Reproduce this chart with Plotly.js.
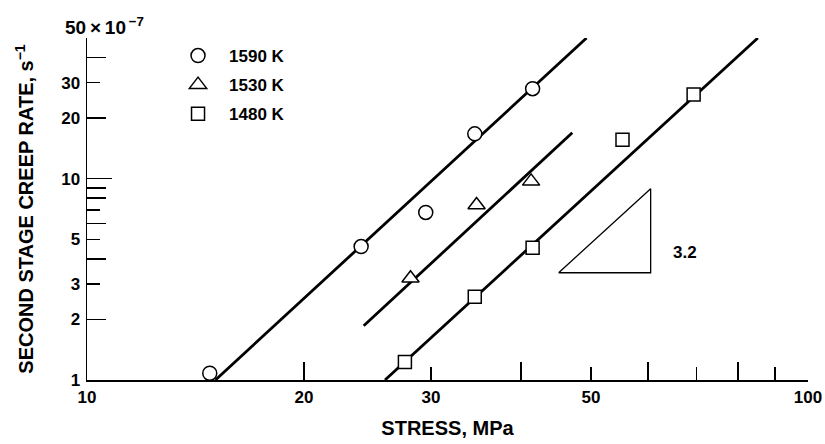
<!DOCTYPE html>
<html><head><meta charset="utf-8">
<script src="https://cdn.plot.ly/plotly-3.0.1.min.js"></script>
<style>html,body{margin:0;padding:0;background:#fff}</style>
</head><body><div id="chart" style="width:825px;height:444px"></div>
<script>
// Data (creep rate in units of 1e-7 s^-1, stress in MPa)
const x1590 = [14.8, 24.0, 29.5, 34.5, 41.5];
const y1590 = [1.08, 4.6, 6.8, 16.7, 28.0];
const x1530 = [28.1, 34.7, 41.3];
const y1530 = [3.2, 7.4, 9.7];
const x1480 = [27.6, 34.5, 41.5, 55.3, 69.4];
const y1480 = [1.23, 2.59, 4.54, 15.6, 26.2];
const fit1590x = [15.07, 49.3], fit1590y = [1, 50];
const fit1530x = [24.2, 47.1], fit1530y = [1.86, 16.9];
const fit1480x = [25.9, 85.2], fit1480y = [1, 50];
const slopeX = [45.1, 60.5, 60.5, 45.1], slopeY = [3.41, 3.41, 8.92, 3.41];
const slopeLabel = "3.2", slopeLabelX = 64.6, slopeLabelY = 4.28;
const xTickVals = [10, 20, 30, 50, 100], xTickText = ["10", "20", "30", "50", "100"];
const yTickVals = [1, 2, 3, 5, 10, 20, 30], yTickText = ["1", "2", "3", "5", "10", "20", "30"];
const xLongTicks = [20, 40, 60, 80, 100], xShortTicks = [30, 50, 70, 90];
const yLongTicks = [2, 4, 6, 8, 9, 20, 40], yShortTicks = [3, 5, 7, 30, 50], yDecadeTicks = [10];

const FONT = "'Liberation Sans', Arial, sans-serif";
const lineStyle = {color: "#000", width: 2.8};
const traces = [
  {x: fit1590x, y: fit1590y, mode: "lines", line: lineStyle, showlegend: false, hoverinfo: "skip"},
  {x: fit1530x, y: fit1530y, mode: "lines", line: lineStyle, showlegend: false, hoverinfo: "skip"},
  {x: fit1480x, y: fit1480y, mode: "lines", line: lineStyle, showlegend: false, hoverinfo: "skip"},
  {x: slopeX, y: slopeY, mode: "lines", line: {color: "#000", width: 1.3}, showlegend: false, hoverinfo: "skip"},
  {x: x1590, y: y1590, mode: "markers", name: "1590 K", legendgroup: "a",
   marker: {symbol: "circle", size: 14, color: "#fff", line: {color: "#000", width: 1.5}}},
  {x: x1530, y: y1530, mode: "markers", name: "1530 K", legendgroup: "b",
   marker: {symbol: "triangle-up", size: 15, color: "#fff", line: {color: "#000", width: 1.5}}},
  {x: x1480, y: y1480, mode: "markers", name: "1480 K", legendgroup: "c",
   marker: {symbol: "square", size: 13, color: "#fff", line: {color: "#000", width: 1.5}}},
  {x: [], y: [], xaxis: "x2", yaxis: "y", showlegend: false},
  {x: [], y: [], xaxis: "x", yaxis: "y2", showlegend: false},
  {x: [], y: [], xaxis: "x", yaxis: "y3", showlegend: false}
];
const xr = [1, 2], yr = [0, Math.log10(50)];
const over = {type: "log", showgrid: false, zeroline: false, showline: false, showticklabels: false,
  ticks: "inside", tickcolor: "#000", tickwidth: 1.5};
const layout = {
  width: 825, height: 444,
  margin: {l: 87, r: 17, t: 38, b: 64},
  paper_bgcolor: "#fff", plot_bgcolor: "#fff",
  font: {family: FONT, color: "#000", size: 17, weight: "bold"},
  showlegend: true,
  legend: {x: 0.111, y: 1.0, xanchor: "left", yanchor: "top", bgcolor: "rgba(0,0,0,0)",
    font: {family: FONT, size: 17, weight: "bold"}, tracegroupgap: 4, itemwidth: 52},
  // main x axis: inside ticks (long + short minor)
  xaxis: {type: "log", range: xr, showgrid: false, zeroline: false, showline: true, linecolor: "#000", linewidth: 1.5,
    ticks: "inside", tickvals: xLongTicks, ticklen: 18, tickwidth: 1.5, tickcolor: "#000", showticklabels: false,
    minor: {tickvals: xShortTicks, ticks: "inside", ticklen: 13, tickwidth: 1.5, tickcolor: "#000"},
    title: {text: "STRESS, MPa", font: {size: 20, weight: "bold", family: FONT}, standoff: 40}},
  yaxis: {type: "log", range: yr, showgrid: false, zeroline: false, showline: true, linecolor: "#000", linewidth: 1.5,
    ticks: "", tickvals: yTickVals, ticktext: yTickText, ticklabelstandoff: 2,
    title: {text: "SECOND STAGE CREEP RATE, s<sup>\u22121</sup>", font: {size: 20, weight: "bold", family: FONT}, standoff: 22}},
  // x labels on overlay
  xaxis2: {type: "log", overlaying: "x", range: xr, showgrid: false, zeroline: false, showline: false,
    ticks: "", tickvals: xTickVals, ticktext: xTickText, showticklabels: true, ticklabelstandoff: 5,
    tickfont: {family: FONT, size: 17, weight: "bold"}},
  yaxis2: Object.assign({}, over, {overlaying: "y", range: yr, tickvals: yLongTicks, ticklen: 19,
    minor: {tickvals: yShortTicks, ticks: "inside", ticklen: 13, tickwidth: 1.5, tickcolor: "#000"}}),
  yaxis3: Object.assign({}, over, {overlaying: "y", range: yr, tickvals: yDecadeTicks, ticklen: 25}),
  annotations: [
    {xref: "paper", yref: "paper", x: -0.033, y: 1.035, xanchor: "left", yanchor: "middle", showarrow: false,
     text: "50\u2009\u00d7\u200910<sup>\u2009\u22127</sup>", font: {size: 19, weight: "bold", family: FONT}},
    {x: Math.log10(slopeLabelX), y: Math.log10(slopeLabelY), xanchor: "left", yanchor: "middle", showarrow: false,
     text: slopeLabel, font: {size: 17, weight: "bold", family: FONT}}
  ]
};
Plotly.newPlot("chart", traces, layout, {displayModeBar: false, staticPlot: true});
</script></body></html>
